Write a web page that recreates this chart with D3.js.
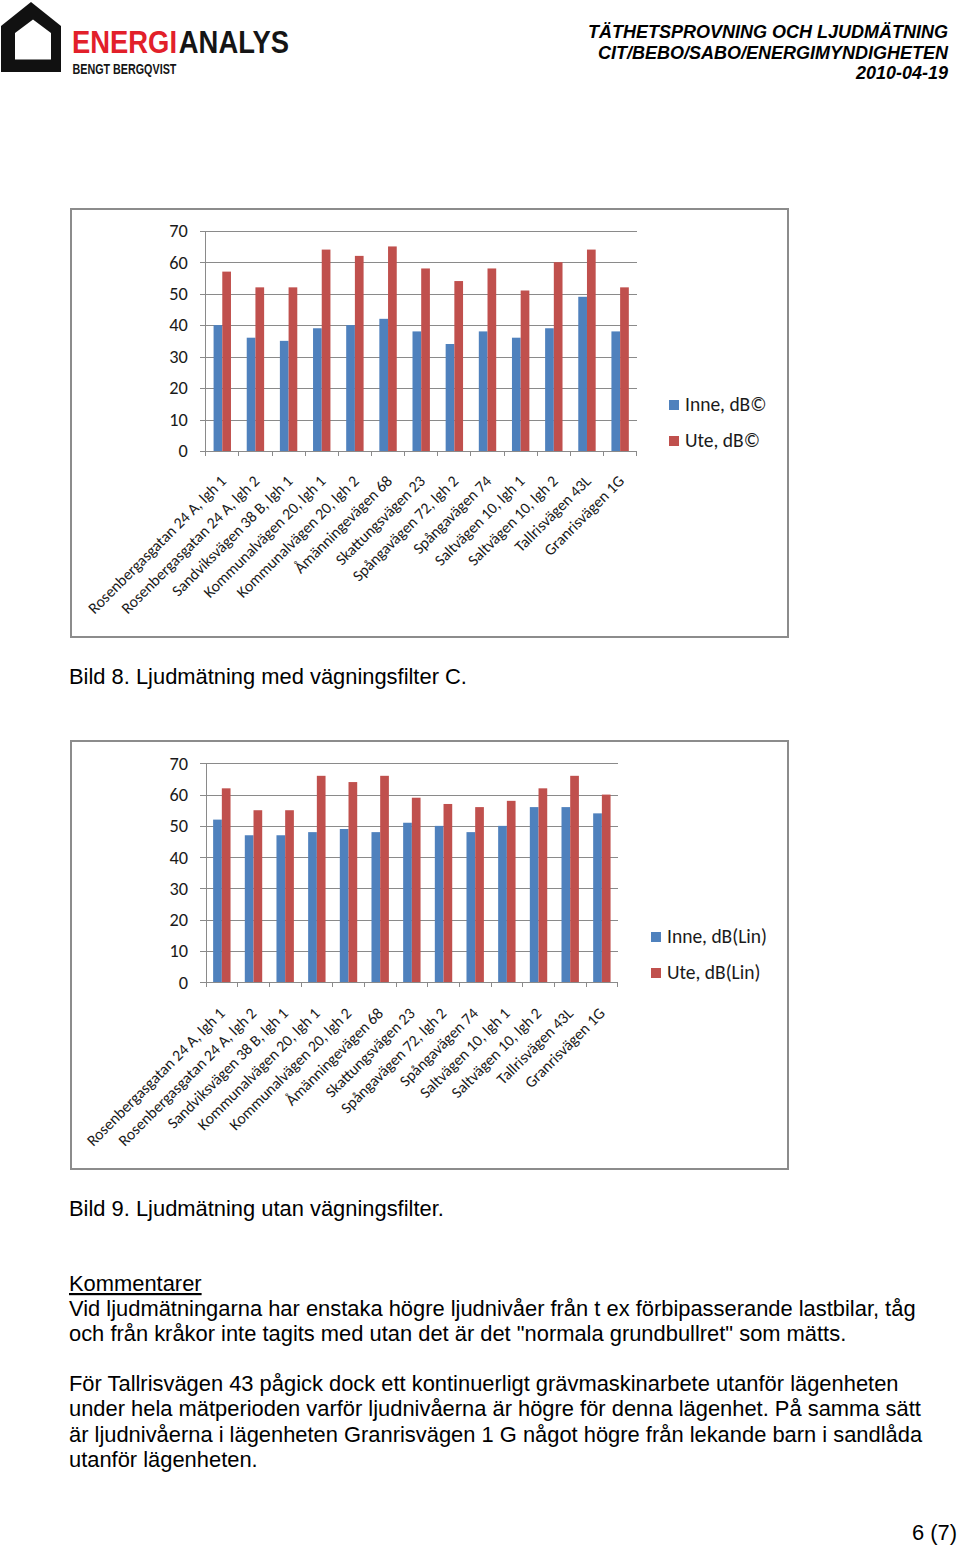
<!DOCTYPE html>
<html><head><meta charset="utf-8">
<script src="https://cdn.jsdelivr.net/npm/d3@7"></script>
<style>
html,body{margin:0;padding:0;background:#fff;}
svg{display:block;}
</style></head>
<body>
<svg id="page" width="960" height="1549"></svg>
<script>
// ---------- data ----------
const categories = [
  "Rosenbergasgatan 24 A, lgh 1",
  "Rosenbergasgatan 24 A, lgh 2",
  "Sandviksvägen 38 B, lgh 1",
  "Kommunalvägen 20, lgh 1",
  "Kommunalvägen 20, lgh 2",
  "Åmänningevägen 68",
  "Skattungsvägen 23",
  "Spångavägen 72, lgh 2",
  "Spångavägen 74",
  "Saltvägen 10, lgh 1",
  "Saltvägen 10, lgh 2",
  "Tallrisvägen 43L",
  "Granrisvägen 1G"
];
const inneC = [40, 36, 35, 39, 40, 42, 38, 34, 38, 36, 39, 49, 38];
const uteC  = [57, 52, 52, 64, 62, 65, 58, 54, 58, 51, 60, 64, 52];
const inneLin = [52, 47, 47, 48, 49, 48, 51, 50, 48, 50, 56, 56, 54];
const uteLin  = [62, 55, 55, 66, 64, 66, 59, 57, 56, 58, 62, 66, 60];
const seriesNamesC = ["Inne, dB©", "Ute, dB©"];
const seriesNamesLin = ["Inne, dB(Lin)", "Ute, dB(Lin)"];
const yTicks = [0, 10, 20, 30, 40, 50, 60, 70];
const headerLines = ["TÄTHETSPROVNING OCH LJUDMÄTNING", "CIT/BEBO/SABO/ENERGIMYNDIGHETEN", "2010-04-19"];
const caption1 = "Bild 8. Ljudmätning med vägningsfilter C.";
const caption2 = "Bild 9. Ljudmätning utan vägningsfilter.";
const commentTitle = "Kommentarer";
const para1 = [
  "Vid ljudmätningarna har enstaka högre ljudnivåer från t ex förbipasserande lastbilar, tåg",
  "och från kråkor inte tagits med utan det är det \"normala grundbullret\" som mätts."
];
const para2 = [
  "För Tallrisvägen 43 pågick dock ett kontinuerligt grävmaskinarbete utanför lägenheten",
  "under hela mätperioden varför ljudnivåerna är högre för denna lägenhet. På samma sätt",
  "är ljudnivåerna i lägenheten Granrisvägen 1 G något högre från lekande barn i sandlåda",
  "utanför lägenheten."
];
const pageNo = "6 (7)";

// ---------- page ----------
const svg = d3.select("#page");
const BLUE = "#4f81bd", RED = "#c0504d";
const body = "'Liberation Sans', Arial, sans-serif";
const chartFont = "Carlito, Lato, 'Open Sans', sans-serif";
const logoFont = "'Liberation Sans Narrow','Liberation Sans',sans-serif";

// logo
const logo = svg.append("g");
logo.append("path")
  .attr("d", "M1,72 L1,26 L31,2 L61,26 L61,72 Z M15,59.5 L51,59.5 L51,33 L33,19.5 L15,33 Z")
  .attr("fill", "#111").attr("fill-rule", "evenodd");
const brand = logo.append("g");
const t1 = brand.append("text").attr("x", 0).attr("y", 0)
  .attr("font-family", logoFont).attr("font-weight", "bold").attr("font-size", 31)
  .attr("fill", "#e2202a").text("ENERGI");
const w1 = t1.node().getComputedTextLength();
const t2 = brand.append("text").attr("x", w1 + 2).attr("y", 0)
  .attr("font-family", logoFont).attr("font-weight", "bold").attr("font-size", 31)
  .attr("fill", "#151515").text("ANALYS");
const w2 = t2.node().getComputedTextLength();
const sx = 217 / (w1 + 2 + w2);
brand.attr("transform", `translate(72,53) scale(${sx},1)`);
const t3 = logo.append("g");
const t3t = t3.append("text").attr("x", 0).attr("y", 0)
  .attr("font-family", logoFont).attr("font-weight", "bold").attr("font-size", 14.5)
  .attr("fill", "#151515").text("BENGT BERGQVIST");
t3.attr("transform", `translate(72.5,74) scale(${104 / t3t.node().getComputedTextLength()},1)`);

// header
svg.append("g").selectAll("text").data(headerLines).join("text")
  .attr("x", 948).attr("y", (d, i) => 38 + i * 20.5)
  .attr("text-anchor", "end")
  .attr("font-family", body).attr("font-weight", "bold").attr("font-style", "italic")
  .attr("font-size", 18).attr("fill", "#000").text(d => d);

// ---------- chart drawing ----------
function drawChart(cfg) {
  const g = svg.append("g");
  // frame
  g.append("rect").attr("x", cfg.frame[0]).attr("y", cfg.frame[1])
    .attr("width", cfg.frame[2]).attr("height", cfg.frame[3])
    .attr("fill", "#fff").attr("stroke", "#8c8c8c").attr("stroke-width", 2);

  const x0 = d3.scaleBand().domain(categories).range([cfg.left, cfg.right]).padding(0);
  const bw = x0.bandwidth();
  const inset = (bw - 2 * cfg.barW) / 2;
  const x1 = d3.scaleBand().domain([0, 1]).range([inset, bw - inset]).padding(0);
  const y = d3.scaleLinear().domain([0, 70]).range([cfg.bottom, cfg.top]);

  // gridlines + y labels via axis
  const yAxis = d3.axisLeft(y).tickValues(yTicks).tickSize(-(cfg.right - cfg.left)).tickPadding(12);
  const ya = g.append("g").attr("transform", `translate(${cfg.left},0)`).call(yAxis);
  ya.select(".domain").remove();
  ya.selectAll(".tick line").attr("stroke", "#8a8a8a").attr("x1", -6).attr("shape-rendering", "crispEdges");
  ya.selectAll(".tick text").attr("font-family", chartFont).attr("font-size", 18.3)
    .attr("fill", "#1a1a1a").attr("x", -18);
  // vertical axis line
  g.append("line").attr("x1", cfg.left).attr("x2", cfg.left).attr("y1", y(70)).attr("y2", y(0))
    .attr("stroke", "#8a8a8a").attr("shape-rendering", "crispEdges");

  // bars
  const rows = categories.map((c, i) => ({c, v: [cfg.s1[i], cfg.s2[i]]}));
  const grp = g.append("g").selectAll("g").data(rows).join("g")
    .attr("transform", d => `translate(${x0(d.c)},0)`);
  grp.selectAll("rect").data(d => d.v.map((v, k) => ({v, k}))).join("rect")
    .attr("x", d => x1(d.k)).attr("width", x1.bandwidth())
    .attr("y", d => y(d.v)).attr("height", d => y(0) - y(d.v))
    .attr("fill", d => d.k === 0 ? BLUE : RED);

  // x axis
  const xAxis = d3.axisBottom(x0).tickSize(0).tickFormat(d => d);
  const xa = g.append("g").attr("transform", `translate(0,${cfg.bottom})`).call(xAxis);
  xa.select(".domain").attr("stroke", "#8a8a8a").attr("shape-rendering", "crispEdges");
  xa.selectAll(".tick text")
    .attr("font-family", chartFont).attr("font-size", cfg.labelSize).attr("fill", "#1a1a1a")
    .attr("text-anchor", "end").attr("dy", 0).attr("y", 0)
    .attr("transform", `translate(${cfg.lblDx},${cfg.lblDy}) rotate(-45)`);
  // category separators (ticks)
  const edges = categories.map(c => x0(c)).concat([cfg.right]);
  g.append("g").selectAll("line").data(edges).join("line")
    .attr("x1", d => d).attr("x2", d => d).attr("y1", cfg.bottom).attr("y2", cfg.bottom + 5)
    .attr("stroke", "#8a8a8a").attr("shape-rendering", "crispEdges");

  // legend
  const lg = g.append("g").selectAll("g").data(cfg.names).join("g")
    .attr("transform", (d, i) => `translate(${cfg.legX},${cfg.legY + i * 36})`);
  lg.append("rect").attr("x", 0).attr("y", -11).attr("width", 10).attr("height", 10)
    .attr("fill", (d, i) => i === 0 ? BLUE : RED);
  lg.append("text").attr("x", 16).attr("y", 0)
    .attr("font-family", chartFont).attr("font-size", 19.5).attr("fill", "#1a1a1a").text(d => d);
}

drawChart({frame: [71, 209, 717, 428], left: 205.7, right: 636.7, top: 230.7, bottom: 451,
  barW: 8.7, s1: inneC, s2: uteC, names: seriesNamesC, legX: 669, legY: 411,
  labelSize: 15.8, lblDx: 5, lblDy: 31});
drawChart({frame: [71, 741, 717, 428], left: 206, right: 617.7, top: 763.3, bottom: 982.3,
  barW: 8.7, s1: inneLin, s2: uteLin, names: seriesNamesLin, legX: 651, legY: 943,
  labelSize: 15.8, lblDx: 4, lblDy: 32});

// captions and text
function txt(s, x, y, opts = {}) {
  return svg.append("text").attr("x", x).attr("y", y)
    .attr("font-family", body).attr("font-size", opts.size || 21.9)
    .attr("fill", "#000").attr("text-anchor", opts.anchor || "start")
    .attr("text-decoration", opts.underline ? "underline" : null).text(s);
}
txt(caption1, 69, 684);
txt(caption2, 69, 1216);
txt(commentTitle, 69, 1291, {underline: true});
para1.forEach((s, i) => txt(s, 69, 1316 + i * 25));
para2.forEach((s, i) => txt(s, 69, 1391 + i * 25.3));
txt(pageNo, 957, 1540, {anchor: "end"});
</script>
</body></html>
